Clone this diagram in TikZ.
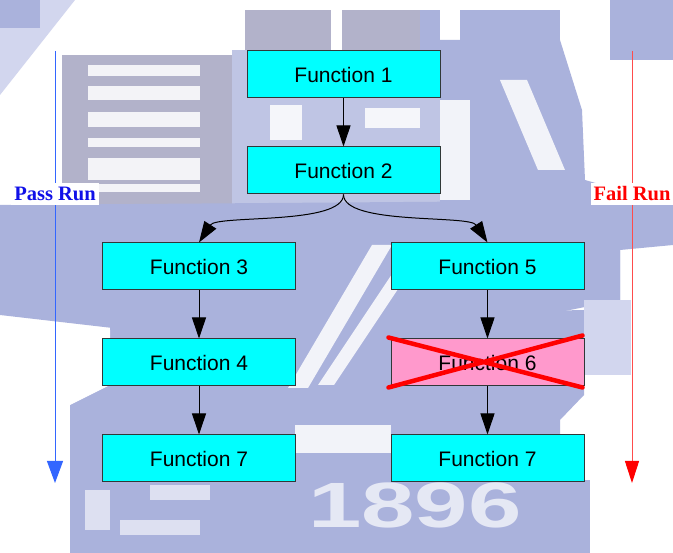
\documentclass[tikz,border=0pt]{standalone}
\usepackage{fontspec}
\setmainfont{Liberation Serif}
\newfontfamily\arialfont{Liberation Sans}
\usetikzlibrary{arrows.meta}

\definecolor{fncyan}{HTML}{00FFFF}
\definecolor{fnpink}{HTML}{FF99CC}
\definecolor{fnborder}{HTML}{303838}
\definecolor{passblue}{HTML}{3366FF}
\definecolor{passtext}{HTML}{1010E8}
\definecolor{failline}{HTML}{FF4C4C}
\definecolor{wmblue}{HTML}{AAB2DC}
\definecolor{wmgray}{HTML}{B2B2CA}
\definecolor{wmlight}{HTML}{D2D6EE}

\tikzset{
  fnbox/.style={draw=fnborder, line width=1pt, fill=fncyan,
    minimum width=193pt, minimum height=47pt, inner sep=0pt,
    font=\arialfont\fontsize{21}{25}\selectfont},
  failbox/.style={fnbox, fill=fnpink},
  flow/.style={line width=1pt, draw=black,
    -{Triangle[length=21pt,width=14pt]}},
  runlabel/.style={fill=white, inner xsep=3pt, inner ysep=4pt,
    font=\bfseries\fontsize{20.5}{24}\selectfont},
  cross/.style={draw=red, line width=4.5pt, line cap=round},
  wm/.style={fill=wmblue, draw=none},
  wmg/.style={fill=wmgray, draw=none},
  wml/.style={fill=wmlight, draw=none},
  wmw/.style={fill=white, draw=none, opacity=0.85}
}

\begin{document}
\begin{tikzpicture}[x=1pt, y=-1pt]
  \useasboundingbox (0,0) rectangle (673,553);
  \fill[white] (0,0) rectangle (673,553);

  % faint logo in the background
  \fill[wml] (0,0) -- (75,0) -- (0,95) -- cycle;
  \fill[wm] (0,0) rectangle (40,28);
  \fill[wmg] (62,55) rectangle (232,212);
  \foreach \ya/\yb in {65/76, 86/100, 112/127, 138/147, 158/180, 184/192}
    \fill[wmw] (88,\ya) rectangle (200,\yb);
  \fill[wm, opacity=0.75] (232,50) rectangle (440,205);
  \fill[wmw] (270,105) rectangle (302,140);
  \fill[wmw] (365,108) rectangle (420,128);
  \fill[wmg] (245,10) rectangle (440,50);
  \fill[white] (331,0) rectangle (342,50);
  \fill[wm] (420,10) rectangle (440,60);
  \fill[wm] (460,10) rectangle (560,60);
  \fill[wm] (610,0) rectangle (673,60);
  \fill[wm] (440,40) -- (560,40) -- (582,110) -- (585,180) -- (620,190)
    -- (620,300) -- (440,300) -- cycle;
  \fill[wmw] (500,80) -- (527,80) -- (565,170) -- (538,170) -- cycle;
  \fill[wmw] (440,100) rectangle (470,200);
  \fill[wm] (0,205) -- (673,200) -- (673,245) -- (620,250) -- (620,300)
    -- (560,312) -- (300,330) -- (130,330) -- (0,315) -- cycle;
  \fill[wm] (110,320) -- (584,310) -- (584,395) -- (560,420) -- (560,553)
    -- (70,553) -- (70,405) -- (110,385) -- cycle;
  \fill[wml] (584,300) rectangle (631,375);
  \fill[wm] (530,480) rectangle (590,553);
  \fill[wmw] (288,388) -- (308,388) -- (392,245) -- (372,245) -- cycle;
  \fill[wmw] (318,385) -- (334,385) -- (414,265) -- (398,265) -- cycle;
  \fill[wmw] (295,425) rectangle (391,453);
  \fill[wmw] (110,330) -- (70,330) -- (70,405) -- (110,385) -- cycle;
  \fill[wmw, opacity=0.6] (85,490) rectangle (110,530);
  \fill[wmw, opacity=0.6] (150,485) rectangle (210,500);
  \fill[wmw, opacity=0.6] (120,520) rectangle (200,535);
  \node[text=white, opacity=0.7, font=\arialfont\bfseries\fontsize{64}{64}\selectfont,
        xscale=1.5, inner sep=0pt] (year) at (415,505) {1896};

  % function blocks
  \node[fnbox]   (f1)  at (343.5, 74.5) {Function 1};
  \node[fnbox]   (f2)  at (343.5,170.5) {Function 2};
  \node[fnbox]   (f3)  at (199,  266.5) {Function 3};
  \node[fnbox]   (f5)  at (487.5,266.5) {Function 5};
  \node[fnbox]   (f4)  at (199,  362.5) {Function 4};
  \node[failbox] (f6)  at (487.5,362.5) {Function 6};
  \node[fnbox]   (f7a) at (199,  458.5) {Function 7};
  \node[fnbox]   (f7b) at (487.5,458.5) {Function 7};

  % call flow
  \draw[flow] (f1.south) -- (f2.north);
  \draw[flow] (f2.south) .. controls +(0,31) and +(18,-28) .. (f3.north);
  \draw[flow] (f2.south) .. controls +(0,31) and +(-18,-28) .. (f5.north);
  \draw[flow] (f3.south) -- (f4.north);
  \draw[flow] (f4.south) -- (f7a.north);
  \draw[flow] (f5.south) -- (f6.north);
  \draw[flow] (f6.south) -- (f7b.north);

  % failed block is crossed out
  \draw[cross] ([shift={(-2,-1)}]f6.north west) -- ([shift={(-2,1)}]f6.south east);
  \draw[cross] ([shift={(-2,1)}]f6.south west) -- ([shift={(-2,-3)}]f6.north east);

  % run direction markers
  \coordinate (passtop) at (55,51);
  \coordinate (passend) at (55,483);
  \coordinate (failtop) at (632,51);
  \coordinate (failend) at (632,483);
  \draw[passblue, line width=1pt, -{Triangle[length=22pt,width=16pt]}] (passtop) -- (passend);
  \draw[failline, line width=1pt, -{Triangle[length=22pt,width=14pt,color=red]}] (failtop) -- (failend);
  \node[runlabel, text=passtext] (pass) at (55,194) {Pass Run};
  \node[runlabel, text=red] (fail) at (632,194) {Fail Run};
\end{tikzpicture}
\end{document}
